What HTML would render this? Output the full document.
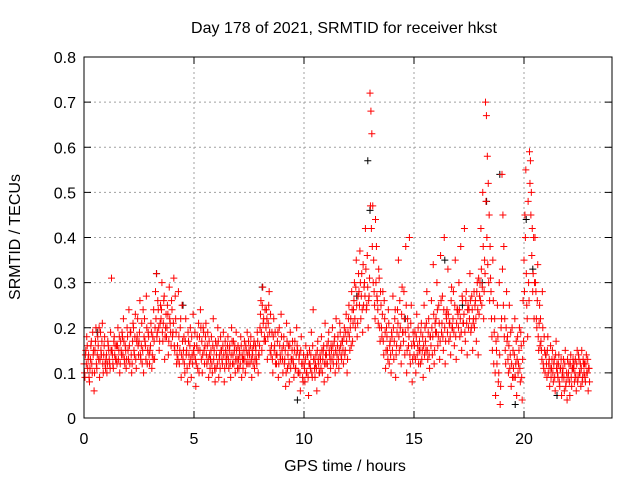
<!DOCTYPE html>
<html><head><meta charset="utf-8"><style>
body{margin:0;background:#fff;}
svg{display:block;font-family:"Liberation Sans",sans-serif;}
</style></head><body>
<svg id="chart" width="640" height="480">
<text x="344" y="33" font-size="16" text-anchor="middle">Day 178 of 2021, SRMTID for receiver hkst</text>
<text x="345" y="471" font-size="16" text-anchor="middle">GPS time / hours</text>
<text transform="translate(20,237) rotate(-90)" font-size="16" text-anchor="middle">SRMTID / TECUs</text>
<g id="grid"></g>
<g id="axes"></g>
<g id="black"></g>
<g id="red"></g>
<rect x="84" y="57" width="528" height="361" fill="none" stroke="#000"/>
</svg>
<script>
const xTicks=[0,5,10,15,20];
const yTicks=[0,0.1,0.2,0.3,0.4,0.5,0.6,0.7,0.8];
const yTickLabels=["0","0.1","0.2","0.3","0.4","0.5","0.6","0.7","0.8"];
const binStart=0, binWidth=0.25;
const redValues=[
[.12,.09,.15,.18,.11,.14],[.08,.13,.17,.10,.14,.06],[.15,.20,.11,.18,.13,.09],[.19,.14,.21,.10,.16,.12],
[.13,.10,.17,.15,.12,.19],[.31,.14,.11,.18,.16,.13],[.12,.20,.15,.10,.17,.14],[.18,.22,.13,.16,.11,.20],
[.15,.24,.12,.19,.10,.17],[.20,.14,.23,.11,.18,.16],[.17,.26,.13,.21,.15,.10],[.22,.16,.27,.12,.19,.14],
[.15,.21,.11,.18,.24,.13],[.28,.32,.19,.24,.15,.21],[.22,.30,.17,.26,.13,.20],[.18,.25,.14,.29,.21,.16],
[.24,.19,.31,.15,.22,.12],[.16,.28,.12,.20,.09,.25],[.13,.18,.10,.22,.15,.08],[.17,.12,.20,.09,.14,.23],
[.14,.19,.07,.16,.11,.21],[.18,.24,.13,.10,.20,.15],[.16,.21,.12,.19,.09,.14],[.13,.18,.10,.22,.15,.08],
[.11,.16,.20,.09,.14,.18],[.15,.12,.19,.08,.17,.13],[.14,.18,.11,.16,.09,.20],[.12,.17,.15,.10,.19,.13],
[.16,.11,.14,.18,.09,.13],[.13,.17,.10,.15,.19,.12],[.15,.12,.18,.09,.14,.16],[.11,.16,.13,.19,.10,.14],
[.20,.26,.15,.29,.22,.18],[.17,.24,.13,.21,.28,.15],[.14,.19,.10,.22,.16,.12],[.12,.17,.09,.20,.14,.23],
[.15,.10,.18,.13,.07,.21],[.11,.16,.08,.19,.13,.15],[.13,.09,.17,.11,.20,.15],[.10,.14,.06,.18,.12,.08],
[.12,.08,.16,.10,.14,.05],[.15,.11,.19,.09,.24,.13],[.09,.14,.06,.17,.12,.10],[.13,.18,.10,.15,.08,.21],
[.12,.16,.09,.19,.14,.11],[.15,.20,.12,.17,.10,.22],[.14,.18,.11,.21,.16,.13],[.17,.12,.20,.15,.23,.10],
[.19,.25,.15,.22,.28,.17],[.24,.30,.20,.35,.18,.27],[.28,.37,.22,.32,.19,.25],[.30,.42,.24,.36,.20,.27],
[.72,.68,.63,.47,.35,.25],[.44,.38,.26,.21,.31,.17],[.25,.18,.28,.14,.22,.11],[.20,.15,.24,.12,.17,.10],
[.18,.27,.13,.22,.09,.16],[.24,.35,.15,.20,.12,.29],[.19,.28,.14,.38,.10,.22],[.16,.40,.12,.25,.08,.19],
[.14,.19,.10,.23,.16,.12],[.17,.12,.21,.15,.09,.25],[.20,.15,.28,.13,.22,.11],[.18,.26,.14,.34,.12,.21],
[.22,.30,.16,.25,.13,.36],[.19,.27,.15,.40,.12,.23],[.24,.33,.17,.21,.14,.29],[.20,.28,.16,.35,.13,.24],
[.23,.30,.18,.38,.15,.26],[.21,.42,.17,.28,.14,.25],[.24,.32,.19,.27,.15,.22],[.20,.26,.17,.30,.14,.23],
[.30,.42,.25,.50,.22,.35],[.70,.67,.58,.52,.45,.38],[.28,.18,.35,.12,.22,.05],[.15,.25,.08,.30,.03,.20],
[.54,.45,.38,.22,.12,.28],[.18,.10,.25,.14,.07,.20],[.15,.09,.22,.12,.05,.18],[.12,.20,.08,.16,.04,.26],
[.35,.45,.55,.25,.18,.30],[.59,.57,.50,.42,.32,.22],[.40,.28,.20,.34,.15,.25],[.22,.15,.28,.12,.18,.10],
[.14,.09,.18,.12,.07,.16],[.11,.15,.08,.13,.06,.17],[.12,.09,.14,.07,.11,.05],[.10,.13,.06,.15,.08,.04],
[.09,.12,.05,.14,.07,.11],[.11,.08,.13,.06,.15,.09],[.13,.10,.07,.15,.09,.12],[.12,.08,.14,.10,.06,.11]
];
const redValues2=[
[.10,.14,.12,.16,.13,.09],[.11,.16,.12,.19,.15,.10],[.17,.12,.14,.16,.20,.13],[.15,.17,.12,.14,.18,.11],
[.14,.12,.16,.13,.11,.15],[.15,.12,.17,.14,.13,.16],[.16,.13,.18,.12,.15,.19],[.14,.17,.12,.15,.13,.18],
[.13,.16,.19,.14,.12,.21],[.15,.18,.13,.17,.22,.14],[.19,.14,.16,.12,.24,.18],[.17,.13,.20,.15,.18,.12],
[.16,.19,.14,.13,.17,.20],[.22,.18,.26,.20,.17,.25],[.24,.19,.21,.27,.18,.23],[.20,.23,.17,.22,.19,.26],
[.18,.21,.16,.27,.19,.14],[.13,.18,.15,.22,.14,.17],[.15,.12,.17,.14,.11,.19],[.14,.16,.13,.18,.12,.15],
[.16,.13,.12,.18,.15,.10],[.15,.20,.17,.14,.19,.12],[.18,.14,.16,.13,.17,.11],[.15,.12,.16,.13,.11,.17],
[.14,.12,.17,.13,.11,.15],[.13,.16,.14,.11,.15,.12],[.16,.13,.15,.12,.14,.17],[.14,.12,.16,.13,.15,.11],
[.13,.15,.12,.16,.14,.11],[.15,.13,.16,.12,.14,.17],[.14,.16,.13,.15,.12,.17],[.13,.15,.12,.17,.14,.16],
[.23,.19,.25,.21,.17,.24],[.20,.22,.18,.25,.19,.23],[.16,.13,.18,.15,.19,.14],[.14,.19,.12,.16,.13,.18],
[.13,.16,.12,.15,.10,.17],[.14,.12,.16,.11,.13,.17],[.12,.15,.11,.14,.16,.10],[.13,.10,.15,.12,.09,.14],
[.11,.13,.10,.14,.09,.12],[.12,.14,.10,.16,.13,.11],[.12,.11,.15,.13,.10,.14],[.11,.15,.13,.16,.12,.14],
[.14,.12,.17,.15,.13,.16],[.13,.16,.14,.18,.15,.12],[.16,.13,.15,.19,.14,.17],[.15,.18,.14,.19,.17,.13],
[.22,.18,.20,.16,.24,.21],[.26,.22,.29,.25,.21,.32],[.25,.30,.27,.24,.34,.29],[.27,.33,.25,.29,.26,.31],
[.47,.42,.38,.30,.28,.22],[.30,.27,.24,.33,.20,.28],[.20,.23,.17,.26,.19,.15],[.18,.13,.21,.16,.14,.19],
[.15,.20,.17,.24,.14,.19],[.21,.18,.26,.16,.23,.19],[.17,.22,.19,.25,.15,.20],[.18,.14,.21,.16,.13,.17],
[.16,.13,.18,.14,.20,.15],[.15,.19,.13,.18,.16,.14],[.17,.21,.15,.19,.14,.18],[.16,.20,.18,.23,.15,.19],
[.19,.24,.18,.21,.17,.26],[.21,.18,.24,.20,.17,.22],[.19,.23,.21,.18,.26,.20],[.22,.19,.25,.18,.21,.24],
[.20,.24,.22,.19,.27,.21],[.23,.19,.26,.21,.24,.20],[.22,.26,.20,.24,.21,.28],[.25,.22,.28,.24,.31,.27],
[.26,.33,.29,.38,.28,.32],[.48,.40,.34,.30,.26,.31],[.22,.15,.26,.19,.10,.17],[.12,.18,.10,.14,.07,.22],
[.33,.25,.18,.15,.20,.17],[.13,.16,.11,.19,.12,.09],[.11,.14,.09,.17,.13,.10],[.15,.11,.19,.09,.13,.17],
[.28,.40,.32,.22,.48,.26],[.52,.45,.36,.28,.40,.30],[.30,.22,.26,.18,.21,.16],[.17,.13,.20,.11,.15,.14],
[.12,.15,.10,.13,.11,.09],[.13,.10,.12,.09,.14,.11],[.10,.12,.08,.11,.13,.09],[.11,.09,.12,.07,.10,.13],
[.10,.08,.12,.09,.11,.13],[.12,.10,.09,.12,.08,.14],[.10,.12,.11,.08,.13,.10],[.09,.12,.10,.13,.11,.08]
];
const blackTimes=[0.6,3.3,4.5,8.1,9.7,12.4,12.9,13.0,14.6,16.4,17.2,18.1,18.3,18.9,19.6,20.1,20.4,21.5];
const blackValues=[0.19,0.32,0.25,0.29,0.04,0.27,0.57,0.46,0.22,0.35,0.25,0.30,0.48,0.54,0.03,0.44,0.33,0.05];

const NS='http://www.w3.org/2000/svg';
const X=t=>84+t*(528/24);
const Y=v=>418-v*(361/0.8);
function el(tag,attrs,parent){const e=document.createElementNS(NS,tag);for(const k in attrs)e.setAttribute(k,attrs[k]);parent.appendChild(e);return e;}
const grid=document.getElementById('grid'),axes=document.getElementById('axes');
yTicks.forEach((v,i)=>{
  const y=Y(v);
  if(i>0&&i<yTicks.length-1){const g=el('line',{x1:84,x2:612,y1:y,y2:y,stroke:'#a0a0a0','stroke-dasharray':'2,3'},grid);
  
  }
  el('line',{x1:84,x2:91,y1:y,y2:y,stroke:'#000'},axes);
  el('line',{x1:605,x2:612,y1:y,y2:y,stroke:'#000'},axes);
  const t=el('text',{x:76,y:y+6,'font-size':16,'text-anchor':'end'},axes);t.textContent=yTickLabels[i];
  
  
});
xTicks.forEach(v=>{
  const x=X(v);
  if(v>0){const g=el('line',{x1:x,x2:x,y1:57,y2:418,stroke:'#a0a0a0','stroke-dasharray':'2,3'},grid);
  
  }
  el('line',{x1:x,x2:x,y1:418,y2:411,stroke:'#000'},axes);
  el('line',{x1:x,x2:x,y1:57,y2:64,stroke:'#000'},axes);
  const t=el('text',{x:x,y:444,'font-size':16,'text-anchor':'middle'},axes);t.textContent=String(v);
  
  
});
function plus(x,y,color,parent,name){
  const p=el('path',{d:`M${x-3.5},${y}H${x+3.5}M${x},${y-3.5}V${y+3.5}`,stroke:color,'stroke-width':1,fill:'none'},parent);
  
  
}
const blk=document.getElementById('black');
blackTimes.forEach((t,i)=>plus(X(t),Y(blackValues[i]),'#000',blk,'black-point'));
const red=document.getElementById('red');
redValues.forEach((bin,i)=>{
  const t0=binStart+i*binWidth;
  bin.forEach((v,j)=>plus(X(t0+j*binWidth/bin.length),Y(v),'#ff0000',red,'red-point'));
});
redValues2.forEach((bin,i)=>{
  const t0=binStart+i*binWidth+binWidth/12;
  bin.forEach((v,j)=>plus(X(t0+j*binWidth/bin.length),Y(v),'#ff0000',red,'red-point'));
});
</script>
</body></html>
